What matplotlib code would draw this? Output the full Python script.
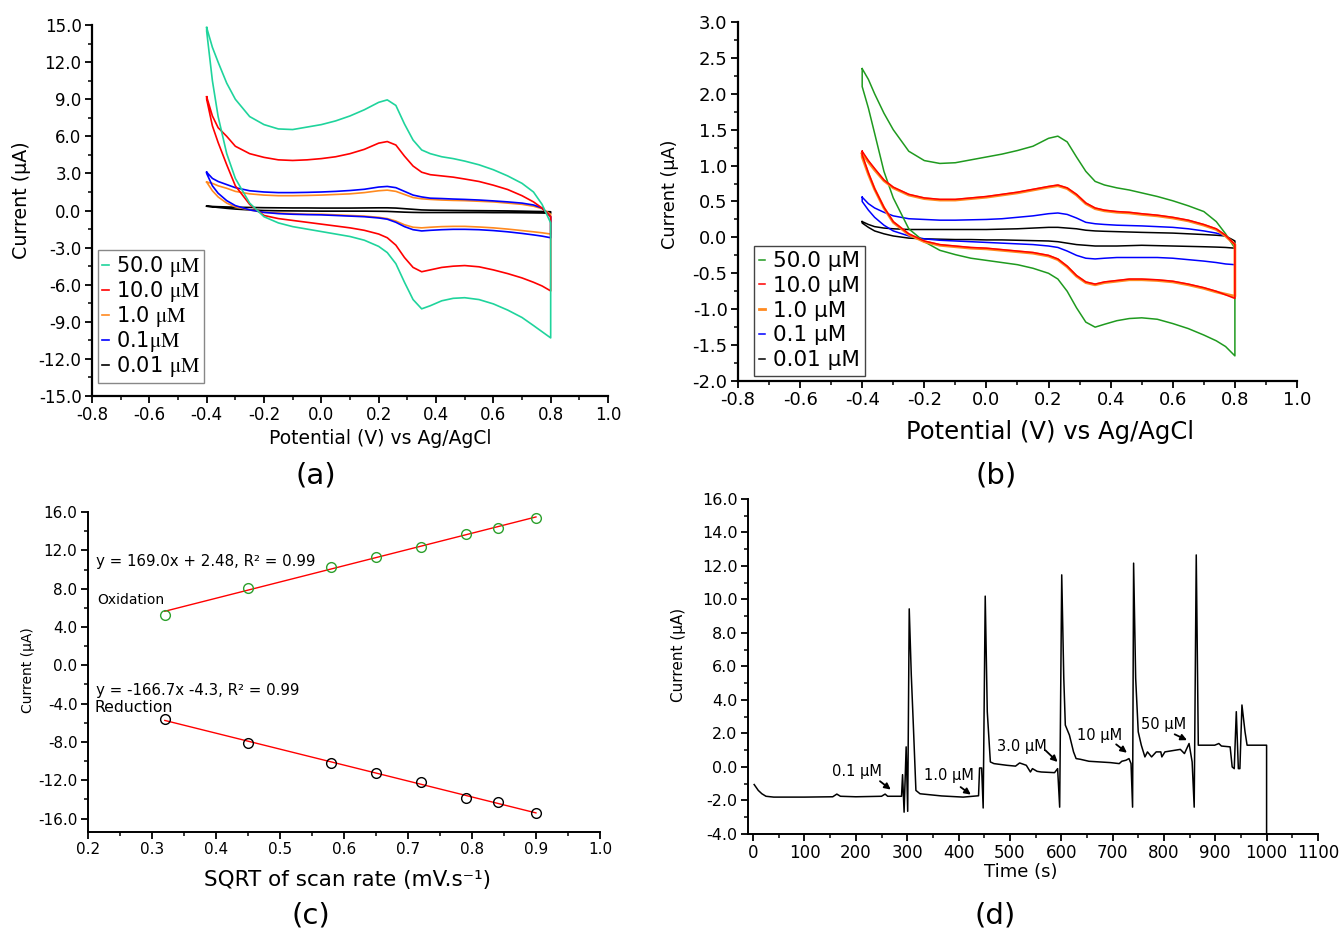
import numpy as np
import matplotlib
matplotlib.use("Agg")
import matplotlib.pyplot as plt
from matplotlib.ticker import MultipleLocator, FormatStrFormatter

plt.rcParams['font.family'] = ['DejaVu Sans']
plt.rcParams['mathtext.fontset'] = 'stix'

# ---------------- data ----------------
E = [-0.40, -0.38, -0.36, -0.33, -0.30, -0.25, -0.20, -0.15, -0.10, -0.05, 0.00, 0.05, 0.10, 0.15,
     0.20, 0.23, 0.26, 0.29, 0.32, 0.35, 0.38, 0.42, 0.46, 0.50, 0.55, 0.60, 0.65, 0.70, 0.74, 0.77, 0.80]

# panel (a): forward (upper) and reverse (lower) branches
a50_up = [14.8, 13.2, 12.0, 10.3, 9.0, 7.6, 6.95, 6.6, 6.55, 6.75, 6.95, 7.25, 7.65, 8.15, 8.75, 8.95, 8.5,
          7.0, 5.7, 4.9, 4.6, 4.35, 4.2, 4.0, 3.7, 3.3, 2.8, 2.2, 1.5, 0.5, -1.0]
a50_dn = [14.5, 10.5, 7.6, 4.6, 2.6, 0.6, -0.5, -1.0, -1.3, -1.5, -1.7, -1.9, -2.1, -2.4, -2.9, -3.4, -4.3,
          -5.8, -7.2, -7.95, -7.7, -7.3, -7.1, -7.05, -7.2, -7.55, -8.05, -8.65, -9.3, -9.8, -10.3]
a10_up = [9.2, 7.65, 6.7, 6.0, 5.2, 4.6, 4.3, 4.1, 4.05, 4.1, 4.2, 4.35, 4.6, 4.95, 5.45, 5.58, 5.3, 4.4,
          3.6, 3.1, 2.9, 2.8, 2.7, 2.55, 2.35, 2.05, 1.7, 1.2, 0.7, 0.2, -0.5]
a10_dn = [9.0, 6.85, 5.5, 3.7, 2.0, 0.5, -0.4, -0.65, -0.8, -0.95, -1.1, -1.25, -1.4, -1.6, -1.9, -2.2, -2.8,
          -3.8, -4.6, -4.95, -4.8, -4.6, -4.5, -4.45, -4.55, -4.8, -5.1, -5.45, -5.8, -6.1, -6.5]
a1_up = [2.3, 2.2, 2.0, 1.8, 1.55, 1.35, 1.25, 1.2, 1.2, 1.22, 1.25, 1.3, 1.35, 1.45, 1.6, 1.65, 1.55, 1.3,
         1.05, 0.95, 0.9, 0.85, 0.82, 0.8, 0.75, 0.7, 0.6, 0.5, 0.35, 0.15, -0.3]
a1_dn = [2.3, 1.6, 1.1, 0.6, 0.3, 0.05, -0.15, -0.2, -0.25, -0.3, -0.3, -0.35, -0.4, -0.45, -0.55, -0.65,
         -0.85, -1.15, -1.35, -1.4, -1.35, -1.3, -1.28, -1.28, -1.33, -1.4, -1.5, -1.62, -1.72, -1.8, -1.9]
a01_up = [3.1, 2.6, 2.35, 2.1, 1.85, 1.6, 1.5, 1.45, 1.45, 1.47, 1.5, 1.55, 1.62, 1.72, 1.9, 1.95, 1.85, 1.55,
          1.25, 1.1, 1.0, 0.97, 0.93, 0.9, 0.85, 0.78, 0.7, 0.6, 0.45, 0.2, -0.5]
a01_dn = [3.0, 2.0, 1.4, 0.8, 0.4, 0.05, -0.15, -0.25, -0.3, -0.33, -0.35, -0.4, -0.45, -0.5, -0.6, -0.7,
          -0.95, -1.3, -1.55, -1.65, -1.6, -1.55, -1.52, -1.52, -1.55, -1.62, -1.72, -1.85, -1.97, -2.07, -2.2]
a001_up = [0.35, 0.33, 0.31, 0.29, 0.27, 0.25, 0.23, 0.22, 0.21, 0.21, 0.2, 0.2, 0.2, 0.21, 0.22, 0.22, 0.2,
           0.15, 0.1, 0.05, 0.03, 0.02, 0.01, 0.0, -0.01, -0.02, -0.03, -0.05, -0.07, -0.08, -0.1]
a001_dn = [0.35, 0.3, 0.25, 0.18, 0.12, 0.05, 0.0, -0.02, -0.03, -0.04, -0.05, -0.05, -0.05, -0.05, -0.06,
           -0.07, -0.1, -0.13, -0.15, -0.16, -0.16, -0.16, -0.16, -0.16, -0.16, -0.17, -0.17, -0.18, -0.19,
           -0.2, -0.22]

# panel (b)
b50_up = [2.35, 2.2, 2.0, 1.73, 1.5, 1.2, 1.07, 1.03, 1.04, 1.08, 1.12, 1.16, 1.21, 1.27, 1.38, 1.41, 1.33,
          1.12, 0.92, 0.78, 0.73, 0.69, 0.66, 0.62, 0.57, 0.51, 0.44, 0.36, 0.22, 0.05, -0.15]
b50_dn = [2.1, 1.8, 1.45, 0.92, 0.55, 0.12, -0.06, -0.18, -0.24, -0.29, -0.32, -0.35, -0.38, -0.43, -0.5,
          -0.58, -0.75, -0.98, -1.18, -1.25, -1.21, -1.16, -1.13, -1.12, -1.14, -1.2, -1.27, -1.36, -1.44,
          -1.52, -1.65]
b10_up = [1.2, 1.07, 0.96, 0.8, 0.7, 0.6, 0.55, 0.53, 0.53, 0.55, 0.57, 0.6, 0.63, 0.67, 0.71, 0.73, 0.69,
          0.6, 0.48, 0.41, 0.38, 0.36, 0.35, 0.33, 0.31, 0.28, 0.24, 0.18, 0.12, 0.03, -0.1]
b10_dn = [1.15, 0.9, 0.68, 0.42, 0.22, 0.05, -0.05, -0.1, -0.12, -0.14, -0.15, -0.17, -0.19, -0.21, -0.25,
          -0.3, -0.4, -0.53, -0.62, -0.65, -0.62, -0.6, -0.58, -0.58, -0.59, -0.61, -0.65, -0.7, -0.75, -0.8,
          -0.85]
b1_up = [1.17, 1.05, 0.94, 0.79, 0.69, 0.59, 0.54, 0.52, 0.52, 0.54, 0.56, 0.59, 0.62, 0.66, 0.7, 0.72, 0.68,
         0.59, 0.47, 0.4, 0.37, 0.35, 0.34, 0.32, 0.3, 0.27, 0.23, 0.17, 0.11, 0.02, -0.1]
b1_dn = [1.12, 0.88, 0.67, 0.41, 0.21, 0.04, -0.06, -0.11, -0.13, -0.15, -0.16, -0.18, -0.2, -0.22, -0.26,
         -0.31, -0.41, -0.54, -0.63, -0.66, -0.63, -0.61, -0.59, -0.59, -0.6, -0.62, -0.66, -0.71, -0.76,
         -0.79, -0.82]
b01_up = [0.56, 0.47, 0.41, 0.35, 0.3, 0.26, 0.25, 0.24, 0.24, 0.245, 0.25, 0.26, 0.28, 0.3, 0.33, 0.34, 0.32,
          0.27, 0.21, 0.19, 0.18, 0.17, 0.165, 0.16, 0.15, 0.14, 0.12, 0.09, 0.06, 0.02, -0.1]
b01_dn = [0.5, 0.38, 0.28, 0.17, 0.09, 0.02, -0.02, -0.04, -0.05, -0.06, -0.07, -0.08, -0.09, -0.1, -0.12,
          -0.14, -0.19, -0.25, -0.29, -0.3, -0.29, -0.28, -0.28, -0.28, -0.28, -0.29, -0.31, -0.33, -0.35,
          -0.37, -0.38]
b001_up = [0.22, 0.18, 0.15, 0.13, 0.12, 0.11, 0.11, 0.11, 0.11, 0.11, 0.11, 0.115, 0.12, 0.13, 0.14, 0.14,
           0.13, 0.12, 0.1, 0.09, 0.085, 0.08, 0.075, 0.07, 0.065, 0.06, 0.05, 0.04, 0.03, 0.02, -0.05]
b001_dn = [0.2, 0.14, 0.09, 0.05, 0.02, -0.01, -0.02, -0.025, -0.03, -0.03, -0.035, -0.035, -0.04, -0.045,
           -0.05, -0.06, -0.08, -0.1, -0.11, -0.12, -0.12, -0.12, -0.115, -0.11, -0.115, -0.12, -0.125, -0.13,
           -0.135, -0.14, -0.15]

labels_a = ['50.0 $\\mathrm{\\mu M}$', '10.0 $\\mathrm{\\mu M}$', '1.0 $\\mathrm{\\mu M}$',
            '0.1$\\mathrm{\\mu M}$', '0.01 $\\mathrm{\\mu M}$']
labels_b = ['50.0 μM', '10.0 μM', '1.0 μM', '0.1 μM', '0.01 μM']

# panel (c)
sqrt_scan = [0.32, 0.45, 0.58, 0.65, 0.72, 0.79, 0.84, 0.90]
i_ox = [5.3, 8.1, 10.3, 11.3, 12.4, 13.7, 14.3, 15.4]
i_red = [-5.6, -8.1, -10.2, -11.2, -12.2, -13.8, -14.3, -15.4]

# panel (d)
t_s = [2, 10, 17, 25, 40, 100, 155, 163, 170, 200, 250, 257, 262, 289, 291, 294, 298, 301, 304, 308,
       312, 317, 325, 367, 409, 439, 441, 445, 448, 452, 456, 462, 469, 494, 511, 519, 532, 540, 544, 553,
       561, 587, 593, 597, 601, 605, 608, 616, 624, 629, 637, 654, 696, 713, 718, 726, 732, 736, 739, 741,
       745, 750, 756, 760, 763, 768, 776, 785, 794, 796, 802, 832, 840, 849, 855, 859, 863, 867, 899, 907,
       912, 929, 933, 937, 941, 945, 948, 952, 958, 962, 1000, 1000]
i_t = [-1.05, -1.4, -1.6, -1.75, -1.8, -1.8, -1.78, -1.62, -1.75, -1.78, -1.75, -1.62, -1.75, -1.75, -0.46,
       -2.7, 1.2, -2.65, 9.44, 5.5, 2.5, -1.4, -1.6, -1.73, -1.8, -1.72, -0.06, -0.06, -2.45, 10.2, 3.3, 0.3,
       0.2, 0.1, 0.05, 0.24, 0.1, -0.3, -0.1, -0.26, -0.3, -0.34, -0.1, -2.4, 11.47, 5.3, 2.5, 1.9, 0.9, 0.5,
       0.46, 0.34, 0.26, 0.2, 0.34, 0.4, 0.5, 0.2, -2.4, 12.17, 5.3, 2.1, 1.3, 0.9, 0.6, 0.9, 0.6, 0.9, 0.9,
       0.6, 0.9, 1.05, 0.8, 1.4, 0.3, -2.4, 12.66, 1.3, 1.3, 1.4, 1.25, 1.2, 0.0, -0.1, 3.3, -0.1, -0.1, 3.7,
       2.1, 1.3, 1.3, -4.0]
annot_text = ['0.1 μM', '1.0 μM', '3.0 μM', '10 μM', '50 μM']
annot_xy = [(202, -0.3), (381, -0.5), (524, 1.25), (674, 1.85), (800, 2.55)]
arrow_from = [(247, -0.85), (404, -1.2), (569, 1.0), (707, 1.35), (821, 1.95)]
arrow_to = [(268, -1.35), (424, -1.65), (593, 0.3), (728, 0.85), (845, 1.6)]

# ---------------- figure ----------------
fig = plt.figure(figsize=(13.41, 9.32), dpi=100)


def style_axes(ax, lw=1.4):
    for s in ['top', 'right']:
        ax.spines[s].set_visible(False)
    for s in ['left', 'bottom']:
        ax.spines[s].set_linewidth(lw)
    ax.tick_params(which='major', direction='out', length=5, width=1.3, pad=2.5)
    ax.tick_params(which='minor', direction='out', length=3, width=1.1)


def loop(up, dn):
    x = list(E) + list(E[::-1]) + [E[0]]
    y = list(up) + list(dn[::-1]) + [up[0]]
    return x, y


# (a)
axa = fig.add_axes([0.0686, 0.5751, 0.3848, 0.398])
cols_a = ['#1fd49c', '#ff0000', '#ff8a20', '#0000ff', '#000000']
data_a = [(a50_up, a50_dn), (a10_up, a10_dn), (a1_up, a1_dn), (a01_up, a01_dn), (a001_up, a001_dn)]
lines_a = {}
for k in [4, 2, 3, 1, 0]:
    x, y = loop(*data_a[k])
    lines_a[k], = axa.plot(x, y, color=cols_a[k], lw=1.2)
axa.set_xlim(-0.8, 1.0)
axa.set_ylim(-15, 15)
axa.xaxis.set_major_locator(MultipleLocator(0.2))
axa.xaxis.set_minor_locator(MultipleLocator(0.1))
axa.yaxis.set_major_locator(MultipleLocator(3))
axa.yaxis.set_minor_locator(MultipleLocator(1.5))
axa.xaxis.set_major_formatter(FormatStrFormatter('%.1f'))
axa.yaxis.set_major_formatter(FormatStrFormatter('%.1f'))
style_axes(axa, 1.6)
axa.tick_params(labelsize=12)
leg = axa.legend([lines_a[k] for k in range(5)], labels_a, loc='lower left',
                 bbox_to_anchor=(0.012, 0.035), fontsize=15, handlelength=0.3, handletextpad=0.35,
                 labelspacing=0.0, borderpad=0.2, fancybox=False, framealpha=1, borderaxespad=0)
leg.get_frame().set_edgecolor('#888888')
leg.get_frame().set_linewidth(1.0)

# (b)
axb = fig.add_axes([0.5503, 0.5912, 0.4169, 0.3852])
cols_b = ['#1f9a1f', '#ff0000', '#ff8a20', '#0000ff', '#000000']
data_b = [(b50_up, b50_dn), (b10_up, b10_dn), (b1_up, b1_dn), (b01_up, b01_dn), (b001_up, b001_dn)]
lines_b = {}
for k in [4, 3, 0, 2, 1]:
    x, y = loop(*data_b[k])
    lines_b[k], = axb.plot(x, y, color=cols_b[k], lw=2.0 if k == 2 else 1.1)
axb.set_xlim(-0.8, 1.0)
axb.set_ylim(-2, 3)
axb.xaxis.set_major_locator(MultipleLocator(0.2))
axb.xaxis.set_minor_locator(MultipleLocator(0.1))
axb.yaxis.set_major_locator(MultipleLocator(0.5))
axb.yaxis.set_minor_locator(MultipleLocator(0.25))
axb.xaxis.set_major_formatter(FormatStrFormatter('%.1f'))
axb.yaxis.set_major_formatter(FormatStrFormatter('%.1f'))
style_axes(axb, 1.6)
axb.tick_params(labelsize=13)
legb = axb.legend([lines_b[k] for k in range(5)], labels_b, loc='lower left',
                  bbox_to_anchor=(0.028, 0.015), fontsize=15.5, handlelength=0.3, handletextpad=0.35,
                  labelspacing=0.22, borderpad=0.25, fancybox=False, framealpha=1, borderaxespad=0)
legb.get_frame().set_edgecolor('#444444')
legb.get_frame().set_linewidth(1.0)

# (c)
axc = fig.add_axes([0.0656, 0.1073, 0.3818, 0.3433])
xs = np.array(sqrt_scan)
p_ox = np.polyfit(xs, i_ox, 1)
p_red = np.polyfit(xs, i_red, 1)
axc.plot(xs, np.polyval(p_ox, xs), color='red', lw=1.0)
axc.plot(xs, np.polyval(p_red, xs), color='red', lw=1.0)
axc.plot(xs, i_ox, 'o', mfc='none', mec='#2ca02c', ms=7, mew=1.0)
axc.plot(xs, i_red, 'o', mfc='none', mec='black', ms=7, mew=1.0)
axc.set_xlim(0.2, 1.0)
axc.set_ylim(-17.4, 16)
axc.xaxis.set_major_locator(MultipleLocator(0.1))
axc.xaxis.set_minor_locator(MultipleLocator(0.05))
axc.yaxis.set_major_locator(MultipleLocator(4))
axc.yaxis.set_minor_locator(MultipleLocator(2))
axc.xaxis.set_major_formatter(FormatStrFormatter('%.1f'))
axc.yaxis.set_major_formatter(FormatStrFormatter('%.1f'))
style_axes(axc, 1.4)
axc.tick_params(labelsize=11)
axc.text(0.212, 10.8, 'y = 169.0x + 2.48, R² = 0.99', fontsize=10.8, va='center')
axc.text(0.214, 6.8, 'Oxidation', fontsize=10, va='center')
axc.text(0.212, -2.6, 'y = -166.7x -4.3, R² = 0.99', fontsize=10.8, va='center')
axc.text(0.21, -4.4, 'Reduction', fontsize=11.3, va='center')

# (d)
axd = fig.add_axes([0.5578, 0.1052, 0.4250, 0.3594])
axd.plot(t_s, i_t, color='black', lw=1.1)
axd.set_xlim(-10, 1100)
axd.set_ylim(-4, 16)
axd.xaxis.set_major_locator(MultipleLocator(100))
axd.xaxis.set_minor_locator(MultipleLocator(50))
axd.yaxis.set_major_locator(MultipleLocator(2))
axd.yaxis.set_minor_locator(MultipleLocator(1))
axd.yaxis.set_major_formatter(FormatStrFormatter('%.1f'))
style_axes(axd, 1.4)
axd.tick_params(axis='x', labelsize=12)
axd.tick_params(axis='y', labelsize=11.5)
for txt, xy, a0, a1 in zip(annot_text, annot_xy, arrow_from, arrow_to):
    axd.text(xy[0], xy[1], txt, fontsize=10.5, ha='center', va='center')
    axd.annotate('', xy=a1, xytext=a0,
                 arrowprops=dict(arrowstyle='-|>', color='black', lw=1.3, mutation_scale=9,
                                 shrinkA=0, shrinkB=0))

# axis labels & panel labels
fig.text(0.2834, 0.530, 'Potential (V) vs Ag/AgCl', fontsize=13.5, ha='center', va='center')
fig.text(0.0164, 0.785, 'Current (μA)', fontsize=13.7, rotation=90, ha='center', va='center')
fig.text(0.783, 0.5365, 'Potential (V) vs Ag/AgCl', fontsize=17.5, ha='center', va='center')
fig.text(0.4996, 0.791, 'Current (μA)', fontsize=12.7, rotation=90, ha='center', va='center')
fig.text(0.2595, 0.0558, 'SQRT of scan rate (mV.s⁻¹)', fontsize=15.5, ha='center', va='center')
fig.text(0.0209, 0.281, 'Current (μA)', fontsize=10, rotation=90, ha='center', va='center')
fig.text(0.7614, 0.0644, 'Time (s)', fontsize=13, ha='center', va='center')
fig.text(0.5056, 0.2972, 'Current (μA)', fontsize=11, rotation=90, ha='center', va='center')
for lab, x, y in [('(a)', 0.2356, 0.4903), ('(b)', 0.7427, 0.4903), ('(c)', 0.2319, 0.0182),
                  ('(d)', 0.742, 0.0182)]:
    fig.text(x, y, lab, fontsize=21, ha='center', va='center')

fig.savefig('out.png', dpi=100)
